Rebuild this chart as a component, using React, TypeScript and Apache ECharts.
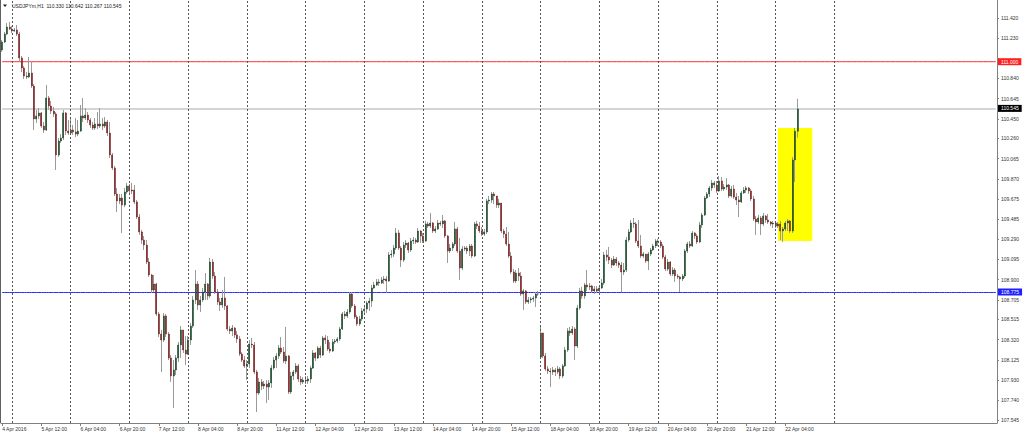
import { useEffect, useRef } from "react";
import * as echarts from "echarts";

const SYMBOL = "USDJPYm,H1";

// x-axis tick labels, one every LABEL_STEP hourly bars
const TIME_LABELS = [
  "4 Apr 2016", "5 Apr 12:00", "6 Apr 04:00", "6 Apr 20:00", "7 Apr 12:00", "8 Apr 04:00",
  "8 Apr 20:00", "11 Apr 12:00", "12 Apr 04:00", "12 Apr 20:00", "13 Apr 12:00", "14 Apr 04:00",
  "14 Apr 20:00", "15 Apr 12:00", "18 Apr 04:00", "18 Apr 20:00", "19 Apr 12:00", "20 Apr 04:00",
  "20 Apr 20:00", "21 Apr 12:00", "22 Apr 04:00",
];
const LABEL_STEP = 16;
// bars that start a new trading day (vertical dotted grid)
const DAY_LINE_BARS = [4, 28, 52, 76, 100, 124, 148, 172, 196, 220, 244, 268, 292, 316, 340];
// total hourly slots on the time axis (chart shift leaves empty space on the right)
const TOTAL_SLOTS = 407;

// price axis ticks and the labels that stay visible (111.035 sits under the red level box)
const Y_TICKS = [
  111.42, 111.23, 111.035, 110.84, 110.645, 110.45, 110.26, 110.065, 109.87, 109.675, 109.485,
  109.29, 109.095, 108.9, 108.705, 108.515, 108.32, 108.125, 107.93, 107.74, 107.545,
];
const Y_LABELS = [
  111.42, 111.23, 110.84, 110.645, 110.45, 110.26, 110.065, 109.87, 109.675, 109.485,
  109.29, 109.095, 108.9, 108.705, 108.515, 108.32, 108.125, 107.93, 107.74, 107.545,
];
const Y_MIN = 107.517;
const Y_MAX = 111.595;

// horizontal levels
const RESISTANCE = 111.0;
const SUPPORT = 108.775;

// highlighted rectangle (bar range, price range)
const BOX_BARS = [317, 331];
const BOX_PRICES = [110.36, 109.271];

// OHLC (hourly). Open = previous close except first bar and the weekend gap.
const FIRST_OPEN = 111.113;
const GAP_OPENS: Record<number, number> = { 220: 108.153 };

const CLOSE = [
  111.19, 111.267, 111.335, 111.315, 111.296, 111.306, 111.267, 111.036, 110.939, 110.862,
  110.853, 110.891, 110.766, 110.448, 110.477, 110.506, 110.38, 110.342, 110.65, 110.573,
  110.525, 110.496, 110.101, 110.236, 110.265, 110.506, 110.332, 110.313, 110.342, 110.323,
  110.303, 110.332, 110.477, 110.457, 110.486, 110.438, 110.39, 110.361, 110.4, 110.38,
  110.4, 110.38, 110.419, 110.313, 110.101, 109.976, 109.725, 109.657, 109.686, 109.619,
  109.744, 109.802, 109.754, 109.763, 109.648, 109.503, 109.359, 109.281, 109.233, 109.069,
  108.944, 108.799, 108.857, 108.568, 108.375, 108.317, 108.549, 108.375, 108.144, 107.97,
  108.028, 108.144, 108.269, 108.414, 108.221, 108.182, 108.317, 108.452, 108.703, 108.857,
  108.655, 108.703, 108.78, 108.857, 108.742, 109.069, 108.934, 108.78, 108.684, 108.655,
  108.722, 108.645, 108.423, 108.404, 108.433, 108.366, 108.327, 108.182, 108.124, 108.067,
  108.086, 108.278, 108.269, 108.009, 107.806, 107.912, 107.874, 107.893, 107.864, 107.903,
  108.047, 108.124, 108.163, 108.24, 108.201, 108.115, 108.163, 107.816, 107.97, 108.009,
  108.067, 107.941, 107.912, 107.931, 107.922, 107.941, 108.047, 108.192, 108.144, 108.24,
  108.173, 108.337, 108.317, 108.23, 108.211, 108.298, 108.308, 108.327, 108.423, 108.568,
  108.549, 108.587, 108.761, 108.645, 108.539, 108.472, 108.52, 108.597, 108.616, 108.674,
  108.693, 108.819, 108.848, 108.877, 108.867, 108.896, 108.906, 108.886, 109.137, 109.146,
  109.204, 109.349, 109.204, 109.088, 109.233, 109.252, 109.185, 109.272, 109.281, 109.262,
  109.368, 109.32, 109.272, 109.436, 109.416, 109.445, 109.368, 109.388, 109.445, 109.436,
  109.465, 109.32, 109.175, 109.204, 109.243, 109.388, 109.175, 109.011, 109.194, 109.204,
  109.175, 109.223, 109.127, 109.436, 109.416, 109.368, 109.339, 109.359, 109.658, 109.667,
  109.725, 109.706, 109.619, 109.638, 109.368, 109.339, 109.243, 109.127, 108.973, 108.886,
  108.963, 108.934, 108.761, 108.79, 108.684, 108.703, 108.713, 108.722, 108.761, 108.761,
  108.385, 108.163, 108.038, 108.018, 108.009, 108.028, 108.009, 108.038, 107.97, 108.067,
  108.221, 108.404, 108.385, 108.423, 108.259, 108.626, 108.79, 108.742, 108.848, 108.829,
  108.838, 108.79, 108.809, 108.79, 108.819, 108.867, 109.137, 109.117, 109.088, 109.04,
  109.098, 109.06, 109.04, 108.973, 108.992, 109.281, 109.359, 109.445, 109.436, 109.272,
  109.223, 109.127, 109.146, 109.079, 109.146, 109.185, 109.223, 109.272, 109.262, 109.223,
  109.117, 109.002, 109.069, 108.954, 108.992, 108.934, 108.925, 108.906, 108.934, 109.175,
  109.243, 109.223, 109.349, 109.32, 109.262, 109.426, 109.522, 109.686, 109.725, 109.783,
  109.831, 109.812, 109.754, 109.85, 109.773, 109.792, 109.812, 109.706, 109.773, 109.696,
  109.667, 109.648, 109.735, 109.763, 109.783, 109.754, 109.677, 109.484, 109.455, 109.494,
  109.436, 109.513, 109.474, 109.455, 109.436, 109.445, 109.416, 109.436, 109.368, 109.388,
  109.445, 109.465, 109.368, 110.053, 110.33, 110.545,
];

const HIGH = [
  111.209, 111.287, 111.373, 111.383, 111.344, 111.325, 111.354, 111.287, 111.055, 110.959,
  110.901, 111.046, 110.997, 110.785, 110.535, 110.554, 110.515, 110.419, 110.776, 110.67,
  110.621, 110.564, 110.515, 110.265, 110.303, 110.535, 110.515, 110.438, 110.457, 110.39,
  110.457, 110.438, 110.583, 110.65, 110.554, 110.515, 110.457, 110.419, 110.457, 110.515,
  110.554, 110.457, 110.467, 110.438, 110.419, 110.12, 109.995, 109.783, 109.725, 109.725,
  109.783, 109.831, 109.821, 109.831, 109.812, 109.667, 109.532, 109.378, 109.32, 109.281,
  109.108, 108.954, 108.944, 108.867, 108.587, 108.414, 108.578, 108.568, 108.395, 108.173,
  108.124, 108.173, 108.298, 108.452, 108.414, 108.356, 108.356, 108.481, 108.742, 108.992,
  108.886, 108.742, 108.819, 108.963, 108.867, 109.108, 109.098, 108.973, 108.809, 108.722,
  108.799, 108.925, 108.655, 108.452, 108.462, 108.443, 108.404, 108.356, 108.201, 108.163,
  108.124, 108.317, 108.337, 108.298, 108.028, 107.951, 107.941, 107.922, 107.931, 107.931,
  108.076, 108.153, 108.192, 108.269, 108.346, 108.25, 108.443, 108.173, 108.009, 108.028,
  108.095, 108.086, 107.97, 107.96, 107.97, 107.97, 108.067, 108.221, 108.201, 108.259,
  108.262, 108.356, 108.366, 108.356, 108.298, 108.327, 108.327, 108.346, 108.443, 108.587,
  108.597, 108.616, 108.78, 108.78, 108.664, 108.558, 108.549, 108.626, 108.645, 108.693,
  108.722, 108.848, 108.877, 108.906, 108.906, 108.925, 108.934, 108.934, 109.166, 109.185,
  109.233, 109.397, 109.378, 109.223, 109.262, 109.281, 109.262, 109.301, 109.31, 109.301,
  109.397, 109.378, 109.349, 109.465, 109.455, 109.542, 109.455, 109.416, 109.474, 109.465,
  109.522, 109.474, 109.33, 109.243, 109.262, 109.455, 109.407, 109.301, 109.223, 109.223,
  109.223, 109.243, 109.243, 109.455, 109.465, 109.455, 109.407, 109.388, 109.677, 109.706,
  109.744, 109.744, 109.706, 109.677, 109.638, 109.388, 109.407, 109.359, 109.166, 109.002,
  108.992, 109.011, 108.973, 108.809, 108.799, 108.732, 108.732, 108.742, 108.78, 108.79,
  108.452, 108.385, 108.192, 108.067, 108.047, 108.057, 108.047, 108.067, 108.057, 108.086,
  108.25, 108.433, 108.443, 108.452, 108.44, 108.655, 108.819, 108.829, 108.867, 108.992,
  108.867, 108.848, 108.838, 108.838, 108.848, 108.906, 109.166, 109.185, 109.214, 109.108,
  109.127, 109.117, 109.079, 109.069, 109.06, 109.31, 109.388, 109.474, 109.494, 109.455,
  109.474, 109.33, 109.166, 109.146, 109.166, 109.204, 109.243, 109.291, 109.291, 109.281,
  109.243, 109.137, 109.098, 109.079, 109.021, 109.011, 108.954, 108.934, 108.954, 109.194,
  109.262, 109.272, 109.368, 109.359, 109.339, 109.455, 109.542, 109.706, 109.744, 109.802,
  109.86, 109.85, 109.85, 109.898, 109.889, 109.821, 109.879, 109.821, 109.802, 109.812,
  109.735, 109.706, 109.754, 109.792, 109.802, 109.792, 109.773, 109.706, 109.513, 109.522,
  109.513, 109.542, 109.522, 109.532, 109.465, 109.465, 109.465, 109.455, 109.465, 109.407,
  109.465, 109.484, 109.474, 110.082, 110.361, 110.642,
];

const LOW = [
  111.094, 111.18, 111.258, 111.306, 111.277, 111.287, 111.248, 110.997, 110.901, 110.833,
  110.833, 110.843, 110.747, 110.342, 110.409, 110.448, 110.361, 110.313, 110.332, 110.535,
  110.496, 110.467, 109.956, 110.082, 110.217, 110.245, 110.294, 110.294, 110.303, 110.294,
  110.274, 110.284, 110.323, 110.419, 110.438, 110.409, 110.361, 110.342, 110.342, 110.351,
  110.361, 110.342, 110.361, 110.284, 110.072, 109.956, 109.706, 109.551, 109.628, 109.349,
  109.599, 109.725, 109.725, 109.725, 109.628, 109.484, 109.33, 109.243, 109.185, 109.05,
  108.925, 108.771, 108.78, 108.549, 108.346, 108.009, 108.298, 108.346, 108.124, 107.913,
  107.662, 107.98, 108.105, 108.144, 108.192, 108.076, 108.173, 108.269, 108.433, 108.664,
  108.607, 108.587, 108.684, 108.703, 108.703, 108.722, 108.906, 108.761, 108.655, 108.597,
  108.626, 108.607, 108.404, 108.375, 108.356, 108.337, 108.288, 108.163, 108.105, 108.047,
  107.931, 108.047, 108.24, 107.989, 107.623, 107.787, 107.835, 107.845, 107.71, 107.739,
  107.855, 108.028, 108.047, 108.134, 108.182, 108.095, 108.086, 107.797, 107.797, 107.931,
  107.989, 107.912, 107.883, 107.893, 107.893, 107.893, 107.903, 108.038, 108.115, 108.134,
  108.144, 108.163, 108.279, 108.211, 108.192, 108.201, 108.279, 108.288, 108.308, 108.414,
  108.52, 108.529, 108.568, 108.626, 108.52, 108.452, 108.452, 108.5, 108.568, 108.578,
  108.597, 108.636, 108.809, 108.838, 108.838, 108.857, 108.857, 108.771, 108.877, 109.108,
  109.117, 109.185, 109.185, 109.021, 109.069, 109.204, 109.156, 109.166, 109.243, 109.243,
  109.252, 109.252, 109.252, 109.262, 109.397, 109.397, 109.349, 109.349, 109.378, 109.416,
  109.397, 109.301, 109.06, 109.156, 109.175, 109.223, 109.156, 108.896, 108.992, 109.175,
  109.146, 109.127, 109.108, 109.117, 109.388, 109.349, 109.32, 109.32, 109.339, 109.628,
  109.638, 109.628, 109.59, 109.59, 109.349, 109.301, 109.223, 109.108, 108.954, 108.867,
  108.867, 108.886, 108.742, 108.607, 108.664, 108.664, 108.674, 108.684, 108.636, 108.742,
  108.144, 108.144, 108.018, 107.989, 107.864, 107.98, 107.97, 107.989, 107.941, 107.951,
  108.057, 108.201, 108.356, 108.366, 108.124, 108.24, 108.607, 108.713, 108.713, 108.79,
  108.799, 108.771, 108.761, 108.771, 108.771, 108.809, 108.848, 109.079, 109.05, 109.011,
  109.031, 109.031, 109.011, 108.78, 108.944, 108.973, 109.262, 109.349, 109.397, 109.252,
  109.204, 109.108, 109.108, 109.06, 108.992, 109.127, 109.175, 109.204, 109.223, 109.204,
  109.098, 108.982, 108.982, 108.934, 108.934, 108.877, 108.906, 108.78, 108.886, 108.915,
  109.156, 109.204, 109.214, 109.291, 109.243, 109.252, 109.397, 109.513, 109.677, 109.696,
  109.754, 109.783, 109.735, 109.744, 109.754, 109.754, 109.763, 109.686, 109.69, 109.677,
  109.619, 109.503, 109.638, 109.725, 109.735, 109.725, 109.657, 109.465, 109.33, 109.436,
  109.33, 109.416, 109.445, 109.436, 109.416, 109.397, 109.397, 109.397, 109.281, 109.262,
  109.368, 109.368, 109.349, 109.349, 109.841, 110.267,
];

const FONT = "'Liberation Sans', Arial, sans-serif";
const BULL = "#134520";
const BEAR = "#7b1a1a";
const WICK = "#9a9a9a";

export default function App() {
  const ref = useRef<HTMLDivElement>(null);

  useEffect(() => {
    if (!ref.current) return;
    const chart = echarts.init(ref.current, undefined, { renderer: "svg" });

    const opens = CLOSE.map((_, i) =>
      i === 0 ? FIRST_OPEN : GAP_OPENS[i] !== undefined ? GAP_OPENS[i] : CLOSE[i - 1]
    );
    const wickData = CLOSE.map((c, i) => [opens[i], c, LOW[i], HIGH[i]]);
    const bodyData = CLOSE.map((c, i) => [opens[i], c, Math.min(opens[i], c), Math.max(opens[i], c)]);
    const slots = Array.from({ length: TOTAL_SLOTS }, (_, i) => String(i));
    const last = CLOSE.length - 1;
    const titleText = `${SYMBOL}  ${opens[last].toFixed(3)} ${HIGH[last].toFixed(3)} ${LOW[last].toFixed(3)} ${CLOSE[last].toFixed(3)}`;
    const lastLabelIndex = (TIME_LABELS.length - 1) * LABEL_STEP;

    // a horizontal level: a flat line series across every slot plus a price box on the axis
    const levelSeries = (value: number, lineColor: string, boxColor: string, width: number) => ({
      type: "line",
      data: slots.map(() => value),
      z: 1,
      silent: true,
      showSymbol: false,
      symbol: "none",
      color: lineColor,
      lineStyle: { color: lineColor, width, type: "solid", opacity: 1 },
      emphasis: { disabled: true },
      markLine: {
        silent: true,
        symbol: ["none", "none"],
        animation: false,
        lineStyle: { color: lineColor, type: "solid", width: 0, opacity: 0 },
        label: {
          show: true,
          position: "end",
          distance: 1,
          backgroundColor: boxColor,
          color: "#fff",
          opacity: 1,
          padding: [1, 3, 1, 3],
          fontSize: 5,
          fontFamily: FONT,
          formatter: value.toFixed(3),
        },
        emphasis: { disabled: true },
        data: [{ yAxis: value }],
      },
    });

    chart.setOption({
      animation: false,
      backgroundColor: "#ffffff",
      grid: { left: 1, right: 27, top: 0, bottom: 12, containLabel: false, outerBoundsMode: "none" },
      xAxis: {
        type: "category",
        data: slots,
        boundaryGap: true,
        axisLine: { show: true, lineStyle: { color: "#808080", width: 1 } },
        axisTick: {
          show: true,
          alignWithLabel: true,
          length: 3,
          interval: (i: number) => i % LABEL_STEP === 0 && i <= lastLabelIndex,
          lineStyle: { color: "#808080" },
        },
        axisLabel: {
          show: true,
          interval: (i: number) => i % LABEL_STEP === 0 && i <= lastLabelIndex,
          formatter: (_v: string, i: number) => TIME_LABELS[i / LABEL_STEP] || "",
          align: "left",
          margin: 3,
          fontSize: 5,
          fontFamily: FONT,
          color: "#333",
          hideOverlap: false,
        },
        splitLine: { show: false },
      },
      yAxis: {
        type: "value",
        position: "right",
        min: Y_MIN,
        max: Y_MAX,
        axisLine: { show: true, lineStyle: { color: "#808080", width: 1 } },
        axisTick: { show: true, length: 2, customValues: Y_TICKS, lineStyle: { color: "#808080" } },
        axisLabel: {
          show: true,
          customValues: Y_LABELS,
          formatter: (v: number) => v.toFixed(3),
          margin: 4,
          fontSize: 5,
          fontFamily: FONT,
          color: "#333",
        },
        splitLine: { show: false },
      },
      graphic: [
        { type: "line", shape: { x1: 0.5, y1: 0, x2: 0.5, y2: 423 }, style: { stroke: "#606060", lineWidth: 1 } },
        { type: "polygon", shape: { points: [[3, 4.5], [7, 4.5], [5, 7]] }, style: { fill: "#222" } },
        {
          type: "text",
          left: 12,
          top: 3,
          style: { text: titleText, fontSize: 5, fontFamily: FONT, fill: "#222" },
        },
      ],
      series: [
        {
          type: "line",
          data: [],
          z: 1,
          silent: true,
          markArea: {
            silent: true,
            itemStyle: { color: "#ffff00", opacity: 1 },
            data: [[{ xAxis: BOX_BARS[0], yAxis: BOX_PRICES[0] }, { xAxis: BOX_BARS[1], yAxis: BOX_PRICES[1] }]],
          },
          markLine: {
            silent: true,
            symbol: ["none", "none"],
            animation: false,
            lineStyle: { color: "#555", type: [2, 2], width: 1 },
            label: { show: false },
            data: DAY_LINE_BARS.map((b) => ({ xAxis: b })),
          },
        },
        levelSeries(CLOSE[last], "#c8c8c8", "#000000", 1.5),
        levelSeries(RESISTANCE, "#f03030", "#ff1f1f", 1),
        levelSeries(SUPPORT, "#2a2aff", "#2020ff", 1),
        {
          type: "candlestick",
          z: 2,
          data: wickData,
          barWidth: 0.6,
          itemStyle: { color: WICK, color0: WICK, borderColor: WICK, borderColor0: WICK, borderWidth: 1 },
        },
        {
          type: "candlestick",
          z: 3,
          data: bodyData,
          barWidth: 1.5,
          itemStyle: { color: BULL, color0: BEAR, borderColor: BULL, borderColor0: BEAR, borderWidth: 0.5 },
        },
      ],
    });

    return () => chart.dispose();
  }, []);

  return (
    <div
      ref={ref}
      style={{ position: "fixed", left: 0, top: 0, width: 1024, height: 435, background: "#fff" }}
    />
  );
}
